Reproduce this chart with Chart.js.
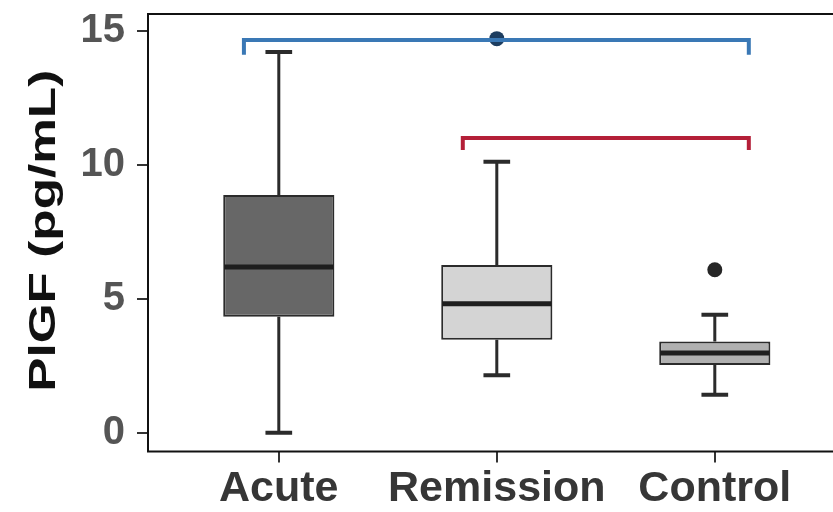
<!DOCTYPE html>
<html>
<head>
<meta charset="utf-8">
<script src="https://cdn.jsdelivr.net/npm/chart.js@4/dist/chart.umd.min.js"></script>
<style>
  html, body { margin: 0; padding: 0; background: #ffffff; overflow: hidden; }
  #wrap { width: 870px; height: 512px; position: relative; }
</style>
</head>
<body>
<div id="wrap"><canvas id="c"></canvas></div>
<script>
// ---- data ----
const categories   = ['Acute', 'Remission', 'Control'];
const q1           = [4.33, 3.47, 2.53];
const median       = [6.18, 4.81, 2.97];
const q3           = [8.87, 6.26, 3.40];
const whiskerLow   = [0.00, 2.14, 1.42];
const whiskerHigh  = [14.20, 10.11, 4.40];
const outlierGroup = [1, 2];
const outlierValue = [14.70, 6.08];
const yTickValues  = [0, 5, 10, 15];
const yTitle       = 'PlGF (pg/mL)';
// significance brackets (data units): start group, end group, level, end-tick level
const bracketFrom  = [-0.16, 0.844];
const bracketTo    = [2.156, 2.156];
const bracketLevel = [14.65, 10.99];
const bracketDrop  = [14.10, 10.55];

// ---- styles ----
const FONT = "'Liberation Sans', Arial, Helvetica, sans-serif";
const boxFills = ['#676767', '#d4d4d4', '#b0b0b0'];
const bracketColors = ['#3a78b5', '#b41f38'];
const outlierColors = ['#1d3d60', '#262626'];

const boxData = categories.map((c, i) => ({ x: i, y: [q1[i], q3[i]] }));

const bracketSets = bracketFrom.map((f, k) => ({
  type: 'line',
  data: [
    { x: f, y: bracketDrop[k] },
    { x: f, y: bracketLevel[k] },
    { x: bracketTo[k], y: bracketLevel[k] },
    { x: bracketTo[k], y: bracketDrop[k] }
  ],
  borderColor: bracketColors[k],
  borderWidth: 4,
  borderJoinStyle: 'miter',
  pointRadius: 0,
  fill: false,
  tension: 0,
  order: 0
}));

const outlierSet = {
  type: 'line',
  showLine: false,
  data: outlierGroup.map((g, i) => ({ x: g, y: outlierValue[i] })),
  pointRadius: 7.5,
  pointBackgroundColor: outlierColors,
  pointBorderColor: outlierColors,
  pointBorderWidth: 0,
  order: 1
};

const boxExtras = {
  id: 'boxExtras',
  beforeDatasetsDraw(chart) {
    const ctx = chart.ctx, xs = chart.scales.x, ys = chart.scales.y;
    const meta = chart.getDatasetMeta(0);
    ctx.save();
    ctx.strokeStyle = '#2b2b2b';
    categories.forEach((c, i) => {
      const bar = meta.data[i];
      const cx = xs.getPixelForValue(i);
      const capHalf = bar.width * 0.12;
      ctx.lineWidth = 3;
      ctx.beginPath();
      ctx.moveTo(cx, ys.getPixelForValue(q3[i]));
      ctx.lineTo(cx, ys.getPixelForValue(whiskerHigh[i]));
      ctx.moveTo(cx, ys.getPixelForValue(q1[i]));
      ctx.lineTo(cx, ys.getPixelForValue(whiskerLow[i]));
      ctx.stroke();
      ctx.lineWidth = 4;
      ctx.beginPath();
      [whiskerHigh[i], whiskerLow[i]].forEach(v => {
        const py = ys.getPixelForValue(v);
        ctx.moveTo(cx - capHalf, py);
        ctx.lineTo(cx + capHalf, py);
      });
      ctx.stroke();
    });
    ctx.restore();
  },
  afterDatasetsDraw(chart) {
    const ctx = chart.ctx, xs = chart.scales.x, ys = chart.scales.y;
    const meta = chart.getDatasetMeta(0);
    ctx.save();
    ctx.strokeStyle = '#1e1e1e';
    ctx.lineWidth = 5;
    categories.forEach((c, i) => {
      const bar = meta.data[i];
      const py = ys.getPixelForValue(median[i]);
      ctx.beginPath();
      ctx.moveTo(bar.x - bar.width / 2 + 1, py);
      ctx.lineTo(bar.x + bar.width / 2 - 1, py);
      ctx.stroke();
    });
    ctx.restore();
  },
  afterDraw(chart) {
    const ctx = chart.ctx, a = chart.chartArea;
    ctx.save();
    ctx.strokeStyle = '#111111';
    ctx.lineWidth = 2;
    ctx.strokeRect(a.left, a.top, a.right - a.left, a.bottom - a.top);
    // y-axis title
    ctx.font = "bold 36px " + FONT;
    ctx.fillStyle = '#111111';
    ctx.textAlign = 'center';
    ctx.textBaseline = 'alphabetic';
    const w = ctx.measureText(yTitle).width;
    const targetLen = 322;
    ctx.translate(55, (a.top + a.bottom) / 2 - 2);
    ctx.rotate(-Math.PI / 2);
    ctx.scale(targetLen / w, 1);
    ctx.fillText(yTitle, 0, 0);
    ctx.restore();
  }
};

function zeroPad(s) { s.paddingTop = 0; s.paddingBottom = 0; s.paddingLeft = 0; s.paddingRight = 0; }

new Chart(document.getElementById('c'), {
  type: 'bar',
  data: {
    datasets: [
      {
        type: 'bar',
        data: boxData,
        backgroundColor: boxFills,
        borderColor: '#2b2b2b',
        borderWidth: 2,
        borderSkipped: false,
        categoryPercentage: 1.0,
        barPercentage: 0.51,
        order: 2
      },
      ...bracketSets,
      outlierSet
    ]
  },
  options: {
    responsive: true,
    maintainAspectRatio: false,
    animation: false,
    layout: { padding: { left: 0, top: 14, right: 24.4, bottom: 0 } },
    plugins: { legend: { display: false }, tooltip: { enabled: false } },
    scales: {
      x: {
        type: 'linear',
        offset: false,
        min: -0.6,
        max: 2.6,
        afterBuildTicks: s => { s.ticks = categories.map((c, i) => ({ value: i })); },
        afterFit: s => { s.height = 60.5; zeroPad(s); },
        grid: { offset: false, drawOnChartArea: false, drawTicks: true, tickLength: 11, color: '#333333', lineWidth: 2 },
        border: { display: false },
        ticks: {
          callback: v => categories[v],
          font: { family: FONT, size: 43, weight: 'bold' },
          color: '#363636',
          padding: 1,
          maxRotation: 0,
          autoSkip: false
        }
      },
      y: {
        offset: false,
        min: -0.7,
        max: 15.62,
        afterBuildTicks: s => { s.ticks = yTickValues.map(v => ({ value: v })); },
        afterFit: s => { s.width = 148; zeroPad(s); },
        grid: { offset: false, drawOnChartArea: false, drawTicks: true, tickLength: 11, color: '#333333', lineWidth: 2 },
        border: { display: false },
        ticks: {
          font: { family: FONT, size: 40, weight: 'bold' },
          color: '#555555',
          padding: 12
        }
      }
    }
  },
  plugins: [boxExtras]
});
</script>
</body>
</html>
